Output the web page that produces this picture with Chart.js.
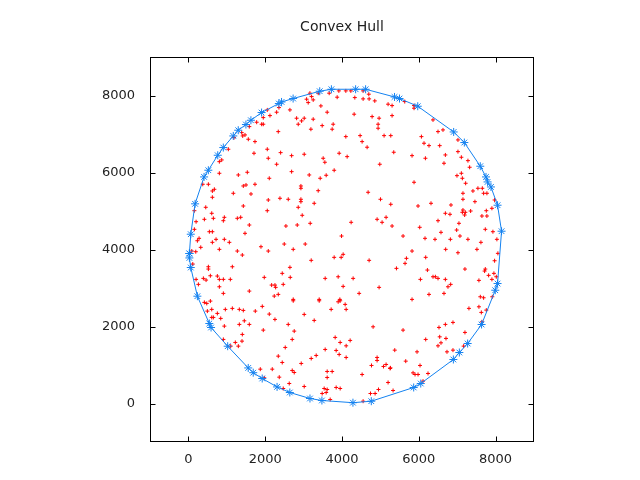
<!DOCTYPE html>
<html>
<head>
<meta charset="utf-8">
<script src="https://cdn.jsdelivr.net/npm/chart.js@4.4.1/dist/chart.umd.min.js"></script>
<style>
html, body { margin: 0; padding: 0; background: #fff; }
</style>
</head>
<body>
<canvas id="chart1" width="640" height="480"></canvas>
<script>
var chartTitle = 'Convex Hull';
var axisMin = -1000, axisMax = 9000;
var tickValues = [0, 2000, 4000, 6000, 8000];
var tickLabels = ['0', '2000', '4000', '6000', '8000'];

// all input points (red +)
var cloudPoints = [
  [2644,7626],[2358,7686],[2124,7478],[2298,7566],[2054,7626],[1950,7426],[1908,7254],[1950,7254],
  [1778,7306],[1586,7192],[1474,6976],[1414,6950],[1388,7036],[1188,6906],[1560,6864],[1734,6802],
  [2340,7062],[2054,6604],[1040,6604],[1708,6500],[2402,6516],[2080,6370],[2298,6214],[868,6326],
  [806,6282],[806,5980],[1300,5936],[1534,6006],[2106,5850],[1734,5694],[1500,5676],[1430,5650],
  [520,5694],[374,5694],[676,5564],[624,5520],[1170,5460],[1630,5442],
  [3164,8060],[3078,7904],[3208,7972],[3250,7886],[3120,7816],[3380,8060],[3666,8060],[3918,8120],
  [4100,8120],[4230,8120],[4550,8120],[4698,8034],[4334,7946],[4550,7912],[4706,7912],[4854,7860],
  [3874,7956],[3450,7730],[3614,7566],[2818,7410],[3016,7410],[2948,7340],[2860,7254],[3250,7384],
  [3484,7218],[3770,7254],[3190,7124],[3744,7124],[4316,7514],[4784,7452],[4966,7410],[4940,7254],
  [4940,7150],[5200,7774],[5304,7738],[5304,7478],[5096,6958],[5270,6958],[4472,6958],[4100,6932],
  [4524,6802],[4654,6656],[5348,6526],[3926,6500],[4134,6412],[2688,6438],[3016,6474],[3510,6370],
  [3554,6266],[4984,6214],[2688,6022],[3146,5936],[3432,5850],[3588,5928],[3796,6058],[2930,5650],
  [2930,5590],[3380,5528],[4680,5486],
  [5634,7842],[5876,7738],[5876,7670],[6370,7366],[6500,7062],[6630,7106],[6068,6932],[6136,6760],
  [6266,6698],[6544,6698],[7020,6846],[5824,6438],[6172,6370],[6692,6456],[6656,6240],[7108,6396],
  [7280,6308],[7324,6136],[7020,6542],[6994,5918],[7108,5980],[7134,5850],[7220,5720],[5876,5746],
  [7410,5520],[7150,5460],[7540,5590],[7654,5590],[7688,5460],[7774,5460],
  [624,5356],[2080,5286],[2384,5330],[2600,5304],[452,5096],[1430,5130],[2054,5008],[608,4940],
  [156,5008],[416,4784],[650,4810],[936,4836],[910,4748],[1274,4810],[1362,4836],[200,4722],
  [156,4524],[1586,4636],[2540,4610],[546,4462],[624,4462],[1474,4420],[278,4290],[234,4228],
  [720,4264],[936,4264],[1066,4186],[624,4186],[2496,4142],[1890,4072],[322,4056],[806,4004],
  [1274,3960],[2080,3960],[88,3960],[192,3942],[1404,3856],[114,3622],[520,3552],[520,3492],
  [1144,3552],[754,3310],[390,3250],[460,3206],[572,3318],[806,3224],[910,3224],[1092,3224],
  [1976,3276],[2444,3380],[2644,3536],[200,3224],[260,3094],[806,3032],[2168,3076],[2254,3076],
  [2272,3016],[2470,3094],[910,2860],[1586,2920],[2340,2834],[2236,2790],
  [2930,5304],[2930,5242],[3276,5200],[2860,5096],[5002,5304],[5270,5174],[2964,4888],[3172,4680],
  [2834,4636],[4238,4706],[4914,4784],[5044,4706],[5148,4836],[5304,4610],[3988,4350],[3042,4142],
  [2730,4004],[4030,3874],[3796,3796],[3978,3796],[3198,3718],[4706,3718],[2652,3276],[3562,3250],
  [3900,3292],[4290,3250],[4030,3042],[4966,3016],[4446,2860],[2730,2704],[3406,2704],[3944,2704],
  [5980,5130],[6318,5200],[6838,5156],[7150,5304],[7462,5242],[7134,4966],[7212,4966],[7350,5000],
  [7150,5026],[7194,4896],[6692,4940],[6812,4914],[7758,5008],[7904,5070],[7974,5286],[7644,4870],
  [7774,4870],[6500,4748],[7046,4680],[6024,4576],[5590,4350],[6162,4290],[6422,4264],[6578,4446],
  [6822,4264],[6986,4506],[7072,4350],[7280,4264],[7732,4524],[7930,4462],[8034,4264],[7618,4186],
  [6700,4004],[7020,3916],[7514,4004],[8060,3900],[5824,3960],[5678,3770],[5642,3640],[6180,3796],
  [5418,3510],[6224,3466],[7202,3492],[7732,3492],[7714,3440],[7974,3708],[7956,3380],[7818,3328],
  [8018,3292],[6042,3224],[6370,3292],[6432,3292],[6500,3250],[6692,3224],[6830,3094],[6760,3032],
  [7566,3198],[7904,3224],[6266,2834],[6656,2860],[7602,2772],[7688,2746],[5824,2704],
  [416,2626],[478,2600],[572,2660],[608,2444],[494,2400],[754,2340],[962,2444],[1144,2470],
  [1326,2444],[1430,2418],[1742,2400],[1924,2522],[2106,2322],[2254,2184],[2600,2054],[842,2210],
  [608,2236],[650,2236],[1456,2148],[1326,2054],[1586,2054],[936,2010],[1950,1906],[1404,1794],
  [910,1664],[1102,1490],[1222,1586],[1396,1620],[1300,1490],[2522,1456],[2340,1230],[2444,1066],
  [1872,892],[2184,892],[2366,684],[1976,666],[2626,520],[2470,390],
  [2730,2668],[3406,2668],[3900,2642],[3952,2668],[4082,2574],[4108,2444],[3718,2444],[3016,2314],
  [3276,2158],[2756,1880],[2704,1664],[4810,1992],[3822,1716],[3952,1586],[4108,1498],[4212,1638],
  [3562,1404],[3848,1378],[3926,1274],[4108,1196],[3328,1248],[3198,1170],[2938,1040],[2704,858],
  [2756,806],[3614,832],[3744,832],[3614,676],[4914,1196],[4914,1118],[4768,988],[5080,962],
  [5148,1014],[5252,910],[4524,754],[3016,442],[3536,390],[3614,364],[3588,286],[3848,416],
  [3952,390],[3484,260],[3692,104],[5200,546],[4950,364],[4742,260],[4862,260],[5330,338],[4550,60],
  [7914,2772],[7306,2470],[7566,2512],[7628,2366],[7758,2426],[7644,2122],[6890,2106],[6692,2054],
  [6526,1976],[7202,1846],[5590,1906],[6180,1664],[6544,1732],[6708,1690],[6578,1576],[6500,1498],
  [6890,1386],[6734,1342],[7168,1490],[5374,1386],[5954,1342],[5660,1100],[6032,988],[5262,926],
  [5850,796],[5902,754],[5980,754],[6240,780],[6110,580]
];

// hull vertices in order (blue *)
var hullPoints = [
  [26,3896],[26,3781],[62,3532],[234,2787],[545,2078],[590,1974],[1023,1488],[1558,924],
  [1688,800],[1922,649],[2309,431],[2641,286],[3166,130],[3477,78],[4285,21],[4763,60],
  [5867,416],[6051,519],[6900,1143],[7056,1324],[7272,1558],[7635,2052],[7991,2942],[8051,3116],
  [8155,4475],[8051,5150],[7879,5625],[7791,5755],[7750,5885],[7601,6163],[7186,6778],[6908,7053],
  [5973,7721],[5498,7921],[5368,7962],[4615,8162],[4355,8162],[3724,8162],[3420,8111],[2727,7921],
  [2426,7832],[2355,7791],[1906,7557],[1628,7357],[1498,7246],[1298,7098],[1169,6950],[909,6648],
  [764,6448],[519,6059],[408,5885],[174,5186],[62,4397]
];

var hullLoop = hullPoints.concat([hullPoints[0]]);

function toXY(p) { return { x: p[0], y: p[1] }; }

// gnuplot like border: full box with inward ticks, mirrored
var framePlugin = {
  id: 'frame',
  afterDraw: function(chart) {
    var a = chart.chartArea, ctx = chart.ctx;
    var xs = chart.scales.x, ys = chart.scales.y;
    var L = Math.round(a.left) + 0.5, R = Math.round(a.right) - 0.5;
    var T = Math.round(a.top) + 0.5, B = Math.round(a.bottom) - 0.5;
    var tl = 5;
    ctx.save();
    ctx.strokeStyle = '#000';
    ctx.lineWidth = 1;
    ctx.strokeRect(L, T, R - L, B - T);
    ctx.beginPath();
    tickValues.forEach(function(v) {
      var px = Math.round(xs.getPixelForValue(v)) + 0.5;
      ctx.moveTo(px, B); ctx.lineTo(px, B - tl);
      ctx.moveTo(px, T); ctx.lineTo(px, T + tl);
      var py = Math.round(ys.getPixelForValue(v)) + 0.5;
      ctx.moveTo(L, py); ctx.lineTo(L + tl, py);
      ctx.moveTo(R, py); ctx.lineTo(R - tl, py);
    });
    ctx.stroke();
    ctx.restore();
  }
};

var tickFont = { family: 'DejaVu Sans', size: 13 };
function setTicks(s) { s.ticks = tickValues.map(function(v) { return { value: v }; }); }
function tickText(v, i) { return tickLabels[i]; }

var ctx = document.getElementById('chart1').getContext('2d');
var chart = new Chart(ctx, {
  type: 'scatter',
  data: {
    datasets: [{
      label: 'hull',
      data: hullLoop.map(toXY),
      showLine: true,
      fill: false,
      borderColor: 'rgb(20,130,240)',
      borderWidth: 1,
      pointStyle: 'star',
      pointRadius: 4,
      pointBorderColor: 'rgb(20,130,240)',
      pointBorderWidth: 1,
      order: 0
    }, {
      label: 'points',
      data: cloudPoints.map(toXY),
      showLine: false,
      pointStyle: 'cross',
      pointRadius: 2,
      pointBorderColor: '#ff0000',
      pointBackgroundColor: '#ff0000',
      pointBorderWidth: 1,
      order: 1
    }]
  },
  options: {
    responsive: false,
    animation: false,
    devicePixelRatio: 1,
    events: [],
    layout: { padding: { left: 0, right: 106, top: 0, bottom: 0 } },
    plugins: {
      legend: { display: false },
      tooltip: { enabled: false },
      title: {
        display: true,
        text: chartTitle,
        fullSize: false,
        color: '#222',
        font: { family: 'DejaVu Sans', size: 14, weight: 'normal' },
        padding: { top: 19, bottom: 21.2 }
      }
    },
    scales: {
      x: {
        type: 'linear',
        min: axisMin,
        max: axisMax,
        afterBuildTicks: setTicks,
        afterFit: function(s) { s.height = 38; },
        grid: { display: false, drawTicks: false },
        border: { display: false },
        ticks: { font: tickFont, color: '#222', padding: 10, maxRotation: 0, autoSkip: false, callback: tickText }
      },
      y: {
        type: 'linear',
        min: axisMin,
        max: axisMax,
        afterBuildTicks: setTicks,
        afterFit: function(s) { s.width = 150; },
        grid: { display: false, drawTicks: false },
        border: { display: false },
        ticks: { font: tickFont, color: '#222', padding: 15, autoSkip: false, callback: tickText }
      }
    }
  },
  plugins: [framePlugin]
});
</script>
</body>
</html>
